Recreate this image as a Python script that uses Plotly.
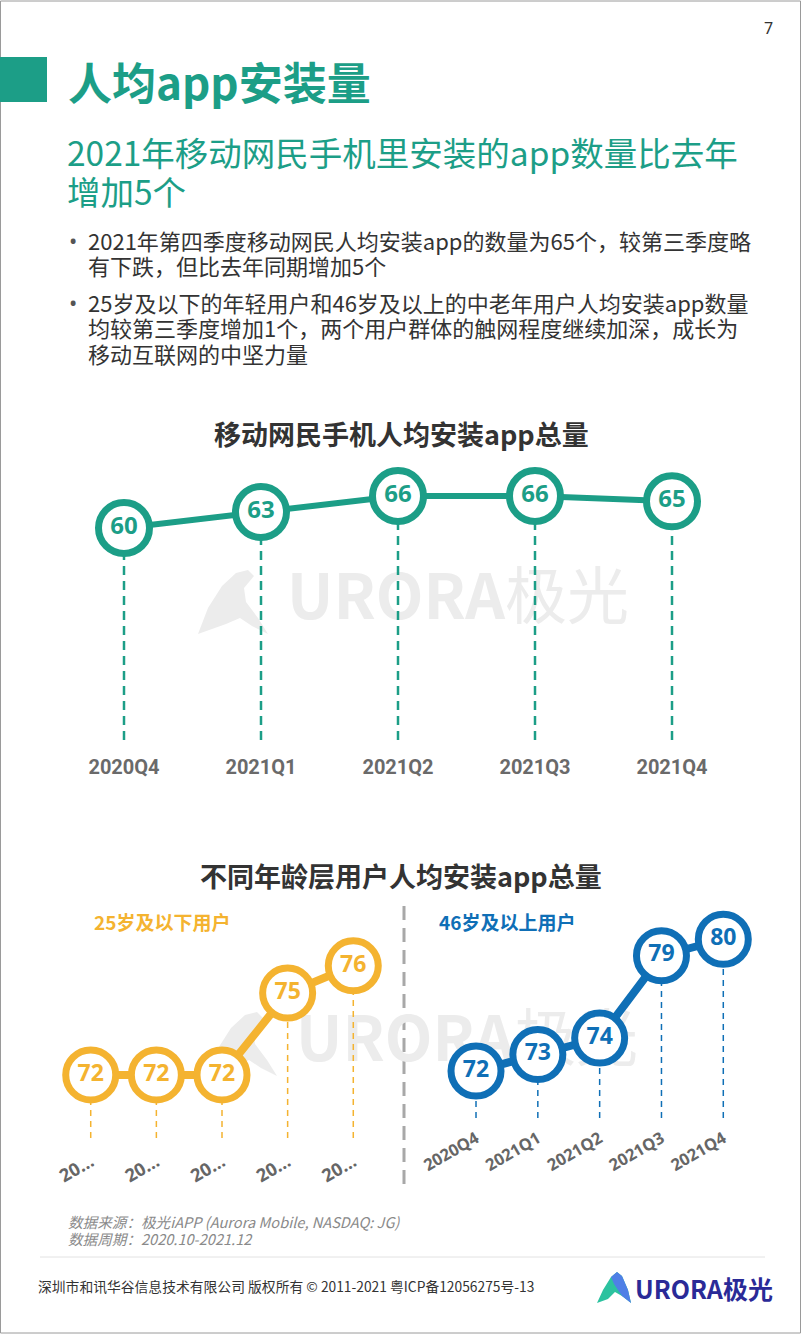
import plotly.graph_objects as go

W, H = 802, 1335

# ---------------- data ----------------
quarters = ["2020Q4", "2021Q1", "2021Q2", "2021Q3", "2021Q4"]
total_apps = [60, 63, 66, 66, 65]
young_apps = [72, 72, 72, 75, 76]      # 25岁及以下用户
senior_apps = [72, 73, 74, 79, 80]     # 46岁及以上用户
young_ticks = ["20…", "20…", "20…", "20…", "20…"]

TEAL = "#1c9e87"
ORANGE = "#f4b330"
BLUE = "#0f6fb6"
CJK = "Noto Sans CJK SC"


def X(px):
    return px / W


def Y(py):
    return 1 - py / H


fig = go.Figure()

# ---------- chart 1 ----------
base1 = 20.25
drop_x, drop_y = [], []
for q, v in zip(quarters, total_apps):
    drop_x += [q, q, None]
    drop_y += [base1, v, None]
fig.add_trace(go.Scatter(x=drop_x, y=drop_y, mode="lines",
                         line=dict(color=TEAL, width=2.5, dash="9px,6px"),
                         hoverinfo="skip", xaxis="x", yaxis="y", cliponaxis=False))
fig.add_trace(go.Scatter(
    x=quarters, y=total_apps, mode="lines+markers+text",
    text=[str(v) for v in total_apps], textposition="middle center",
    textfont=dict(family="Open Sans", size=24, color=TEAL, weight="bold"),
    line=dict(color=TEAL, width=6),
    marker=dict(size=51, color="white", line=dict(color=TEAL, width=7)),
    xaxis="x", yaxis="y", cliponaxis=False))

# ---------- chart 2 left ----------
base2 = 69.69
drop_x, drop_y = [], []
for q, v in zip(quarters, young_apps):
    drop_x += [q, q, None]
    drop_y += [base2, v, None]
fig.add_trace(go.Scatter(x=drop_x, y=drop_y, mode="lines",
                         line=dict(color=ORANGE, width=1.5, dash="6px,5px"),
                         hoverinfo="skip", xaxis="x2", yaxis="y2", cliponaxis=False))
fig.add_trace(go.Scatter(
    x=quarters, y=young_apps, mode="lines+markers+text",
    text=[str(v) for v in young_apps], textposition="middle center",
    textfont=dict(family="Open Sans", size=23, color=ORANGE, weight="bold"),
    line=dict(color=ORANGE, width=8),
    marker=dict(size=50, color="white", line=dict(color=ORANGE, width=7)),
    xaxis="x2", yaxis="y2", cliponaxis=False))

# ---------- chart 2 right ----------
base3 = 69.15
drop_x, drop_y = [], []
for q, v in zip(quarters, senior_apps):
    drop_x += [q, q, None]
    drop_y += [base3, v, None]
fig.add_trace(go.Scatter(x=drop_x, y=drop_y, mode="lines",
                         line=dict(color=BLUE, width=1.5, dash="6px,5px"),
                         hoverinfo="skip", xaxis="x3", yaxis="y3", cliponaxis=False))
fig.add_trace(go.Scatter(
    x=quarters, y=senior_apps, mode="lines+markers+text",
    text=[str(v) for v in senior_apps], textposition="middle center",
    textfont=dict(family="Open Sans", size=23, color=BLUE, weight="bold"),
    line=dict(color=BLUE, width=8),
    marker=dict(size=50, color="white", line=dict(color=BLUE, width=7)),
    xaxis="x3", yaxis="y3", cliponaxis=False))

ax_common = dict(showgrid=False, zeroline=False, showline=False, ticks="",
                 fixedrange=True, automargin=False)

fig.update_layout(
    width=W, height=H, margin=dict(l=0, r=0, t=0, b=0, autoexpand=False),
    paper_bgcolor="white", plot_bgcolor="rgba(0,0,0,0)", showlegend=False,
    xaxis=dict(domain=[X(55.5), X(740.5)], type="category", range=[-0.5, 4.5],
               anchor="y", tickfont=dict(family="Liberation Sans Narrow, Roboto", size=20,
                                         color="#6a6a6a", weight="bold"),
               ticklabelstandoff=13, **ax_common),
    yaxis=dict(domain=[Y(740), Y(460)], range=[base1, 72.75], showticklabels=False,
               anchor="x", **ax_common),
    xaxis2=dict(domain=[X(57.9), X(386.1)], type="category", range=[-0.5, 4.5],
                anchor="y2", tickvals=quarters, ticktext=young_ticks, tickangle=-30,
                tickfont=dict(family="Open Sans", size=18, color="#666", weight="bold"),
                ticklabelstandoff=9, **ax_common),
    yaxis2=dict(domain=[Y(1138), Y(905)], range=[base2, 78.227], showticklabels=False,
                anchor="x2", **ax_common),
    xaxis3=dict(domain=[X(445.1), X(754.2)], type="category", range=[-0.5, 4.5],
                anchor="y3", tickangle=-30,
                tickfont=dict(family="Open Sans", size=16.5, color="#666", weight="bold"),
                ticklabelstandoff=7, **ax_common),
    yaxis3=dict(domain=[Y(1118), Y(905)], range=[base3, 82.079], showticklabels=False,
                anchor="x3", **ax_common),
)

shapes = []
annotations = []


def add_text(text, px, py, size, color="#333", family=CJK, bold=False, italic=False,
             xanchor="left", yanchor="middle"):
    annotations.append(dict(
        text=text, x=X(px), y=Y(py), xref="paper", yref="paper",
        xanchor=xanchor, yanchor=yanchor, showarrow=False,
        font=dict(family=family, size=size, color=color,
                  weight="bold" if bold else "normal",
                  style="italic" if italic else "normal")))


def rect(x0, y0, x1, y1, fill=None, line=None, lw=0, layer="above"):
    shapes.append(dict(type="rect", xref="paper", yref="paper",
                       x0=X(x0), x1=X(x1), y0=Y(y1), y1=Y(y0),
                       fillcolor=fill or "rgba(0,0,0,0)",
                       line=dict(color=line or "rgba(0,0,0,0)", width=lw),
                       layer=layer))


def path(points, fill, layer="below"):
    d = "M " + " L ".join(f"{X(px):.5f},{Y(py):.5f}" for px, py in points) + " Z"
    shapes.append(dict(type="path", xref="paper", yref="paper", path=d,
                       fillcolor=fill, line=dict(width=0), layer=layer))


def line(x0, y0, x1, y1, color, width, dash="solid"):
    shapes.append(dict(type="line", xref="paper", yref="paper",
                       x0=X(x0), x1=X(x1), y0=Y(y0), y1=Y(y1),
                       line=dict(color=color, width=width, dash=dash), layer="below"))


# page border
rect(0.5, 1, 800.5, 1333, line="#9a9a9a", lw=1)

# header
rect(0, 57, 47, 102, fill=TEAL)
add_text("人均app安装量", 66, 81, 44, color=TEAL, bold=True)
add_text("7", 768, 28, 16, color="#333", family="Noto Sans", xanchor="center")
add_text("2021年移动网民手机里安装的app数量比去年", 65, 152, 33.5, color=TEAL)
add_text("增加5个", 65, 190, 33.5, color=TEAL)

bullets = [
    ("2021年第四季度移动网民人均安装app的数量为65个，较第三季度略", 240, True),
    ("有下跌，但比去年同期增加5个", 265, False),
    ("25岁及以下的年轻用户和46岁及以上的中老年用户人均安装app数量", 302, True),
    ("均较第三季度增加1个，两个用户群体的触网程度继续加深，成长为", 327, False),
    ("移动互联网的中坚力量", 353, False),
]
for txt, py, dot in bullets:
    if dot:
        add_text("•", 73, py, 22, color="#555", family="Noto Sans", xanchor="center")
    add_text(txt, 86, py, 22, color="#333")

# chart titles
add_text("移动网民手机人均安装app总量", 401, 434, 27, color="#333", bold=True,
         xanchor="center")
add_text("不同年龄层用户人均安装app总量", 401, 875, 27, color="#333", bold=True,
         xanchor="center")
add_text("25岁及以下用户", 92, 921, 19, color=ORANGE, bold=True)
add_text("46岁及以上用户", 437, 921, 19, color=BLUE, bold=True)

# separator
line(404, 906, 404, 1186, "#a8a8a8", 3, dash="14px,8px")

# watermarks
WM = "#ececec"
for (ox, oy) in [(196, 568), (205, 1010)]:
    path([(ox + 2, oy + 66), (ox + 12, oy + 40), (ox + 26, oy + 18), (ox + 40, oy + 5),
          (ox + 52, oy + 2), (ox + 58, oy + 8), (ox + 48, oy + 20), (ox + 50, oy + 34),
          (ox + 62, oy + 50), (ox + 72, oy + 66), (ox + 56, oy + 58), (ox + 44, oy + 50),
          (ox + 30, oy + 56)], WM)
    shapes.append(dict(type="rect", xref="paper", yref="paper",
                       x0=X(ox + 85), x1=X(ox + 440), y0=Y(oy + 72), y1=Y(oy - 4),
                       line=dict(width=0), fillcolor="rgba(0,0,0,0)", layer="below",
                       label=dict(text="<b>URORA</b>极光", textposition="middle left",
                                  font=dict(family=CJK, size=62, color=WM))))

# footer
add_text("数据来源：极光iAPP (Aurora Mobile, NASDAQ: JG)", 66, 1221, 14.6, color="#8a8a8a",
         italic=True)
add_text("数据周期：2020.10-2021.12", 66, 1238, 14.6, color="#8a8a8a", italic=True)
line(40, 1257, 765, 1257, "#e2e2e2", 1)
add_text("深圳市和讯华谷信息技术有限公司 版权所有 © 2011-2021 粤ICP备12056275号-13",
         36, 1286, 13.8, color="#333")
path([(597, 1303), (603, 1290), (611, 1277), (617, 1272), (622, 1276), (628, 1290),
      (631, 1303), (622, 1296), (615, 1292), (608, 1299)], "#2cc29f", layer="above")
path([(611, 1277), (617, 1272), (622, 1276), (628, 1290), (631, 1303), (622, 1296),
      (618, 1290), (614, 1284)], "#4f7fe6", layer="above")
add_text("URORA极光", 633, 1288, 25, color="#2a2a97", bold=True)

fig.update_layout(shapes=shapes, annotations=annotations)
fig.write_html("out.html")
